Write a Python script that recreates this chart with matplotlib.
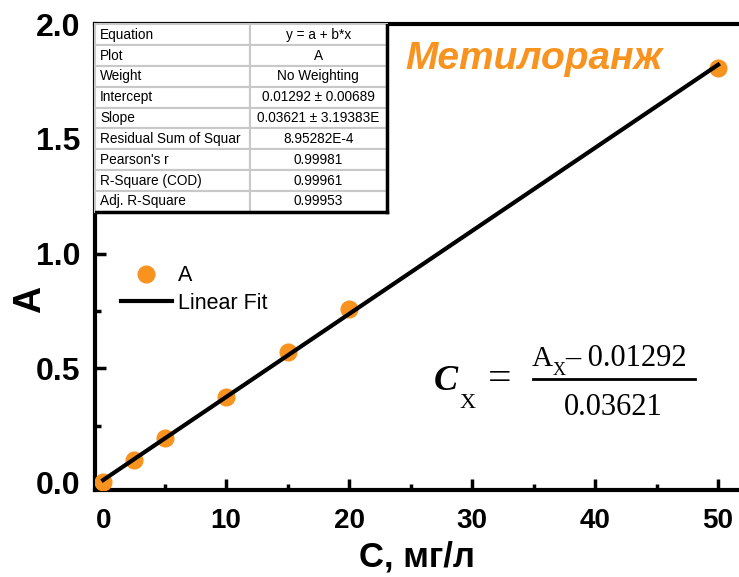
import numpy as np
import matplotlib.pyplot as plt
from matplotlib.lines import Line2D

plt.rcParams['font.family'] = ['Liberation Sans', 'DejaVu Sans']

# measured data
conc = [0, 2.5, 5, 10, 15, 20, 50]
absorb = [0.005, 0.10, 0.195, 0.377, 0.573, 0.76, 1.81]
intercept = 0.01292
slope = 0.03621

table_keys = ['Equation', 'Plot', 'Weight', 'Intercept', 'Slope',
              'Residual Sum of Squar', "Pearson's r", 'R-Square (COD)', 'Adj. R-Square']
table_vals = ['y = a + b*x', 'A', 'No Weighting', '0.01292 ± 0.00689',
              '0.03621 ± 3.19383E', '8.95282E-4', '0.99981', '0.99961', '0.99953']

orange = '#F7931E'

fig = plt.figure(figsize=(7.39, 5.77), dpi=100)
ax = fig.add_axes([0.128, 0.151, 0.872, 0.807])

ax.plot(conc, absorb, 'o', color=orange, markersize=12, label='A', zorder=3)
xf = np.array([conc[0], conc[-1]])
ax.plot(xf, intercept + slope * xf, '-', color='black', lw=3, label='Linear Fit', zorder=4)

ax.set_xlim(-0.7, 51.7)
ax.set_ylim(-0.03, 2.0)
ax.set_xticks([0, 10, 20, 30, 40, 50])
ax.set_yticks([0.0, 0.5, 1.0, 1.5, 2.0])
ax.set_xticks(np.arange(5, 50, 10), minor=True)
ax.set_yticks(np.arange(0.25, 2.0, 0.5), minor=True)
ax.tick_params(which='both', direction='in', width=2.5)
ax.tick_params(which='major', length=8)
ax.tick_params(which='minor', length=4)
ax.tick_params(axis='y', pad=10, labelsize=23)
ax.tick_params(axis='x', pad=13, labelsize=20)
for lab in ax.get_xticklabels() + ax.get_yticklabels():
    lab.set_fontweight('bold')
for s in ['left', 'bottom', 'top']:
    ax.spines[s].set_linewidth(3)
ax.spines['right'].set_visible(False)

ax.set_xlabel('C, мг/л', fontsize=25, fontweight='bold', labelpad=5)
ax.set_ylabel('A', fontsize=27, fontweight='bold', va='center')
ax.yaxis.set_label_coords(-0.1, 0.408)

ax.legend(loc='center left', bbox_to_anchor=(0.027, 0.43), borderaxespad=0,
          frameon=False, fontsize=15.5, handlelength=2.4, handletextpad=0.25,
          labelspacing=0.3)

# fit results table
tbl = ax.table(cellText=[[k, v] for k, v in zip(table_keys, table_vals)],
               cellLoc='center', colWidths=[0.533, 0.467],
               bbox=[0.0, 0.597, 0.453, 0.403], zorder=5)
tbl.auto_set_font_size(False)
for (r, c), cell in tbl.get_celld().items():
    cell.set_edgecolor('#c8c8c8')
    cell.set_linewidth(1.5)
    cell.set_facecolor('white')
    cell.get_text().set_fontsize(9.8)
    if c == 0:
        cell.get_text().set_ha('left')
        cell.PAD = 0.035
ax.add_line(Line2D([0.453, 0.453], [0.597, 1.0], transform=ax.transAxes,
                   color='black', lw=2.5, zorder=6))
ax.add_line(Line2D([0.0, 0.453], [0.597, 0.597], transform=ax.transAxes,
                   color='black', lw=2.5, zorder=6))

ax.text(0.682, 0.925, 'Метилоранж', transform=ax.transAxes, fontsize=28,
        fontweight='bold', style='italic', color=orange, ha='center', va='center')

# calibration formula
serif = 'Liberation Serif'
ax.text(0.527, 0.215, 'C', transform=ax.transAxes, fontsize=26, family=serif,
        fontweight='bold', style='italic', ha='left', va='baseline')
ax.text(0.566, 0.175, 'X', transform=ax.transAxes, fontsize=16, family=serif,
        ha='left', va='baseline')
ax.text(0.628, 0.236, '=', transform=ax.transAxes, fontsize=30, family=serif,
        ha='center', va='center')
ax.text(0.678, 0.266, 'A', transform=ax.transAxes, fontsize=21, family=serif,
        ha='left', va='baseline')
ax.text(0.711, 0.247, 'X', transform=ax.transAxes, fontsize=13, family=serif,
        ha='left', va='baseline')
ax.text(0.731, 0.266, '– 0.01292', transform=ax.transAxes, fontsize=22, family=serif,
        ha='left', va='baseline')
ax.add_line(Line2D([0.68, 0.932], [0.238, 0.238], transform=ax.transAxes,
                   color='black', lw=2))
ax.text(0.8045, 0.161, '0.03621', transform=ax.transAxes, fontsize=22,
        family=serif, ha='center', va='baseline')

fig.savefig('out.png', dpi=100)
